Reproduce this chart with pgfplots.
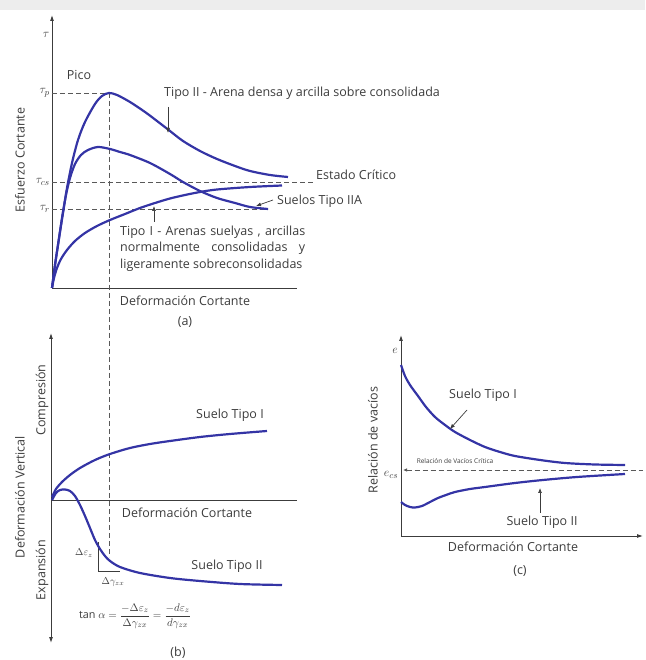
\documentclass[border=0pt]{standalone}
\usepackage{amsmath}
\usepackage{fontspec}
\setmainfont{Open Sans}
\usepackage{pgfplots}
\pgfplotsset{compat=1.18}
\usetikzlibrary{arrows.meta}
\definecolor{curva}{RGB}{52,52,165}
\definecolor{ink}{RGB}{60,60,60}

% every panel uses the same 1px = 1pt grid, so the three axes line up
\pgfplotsset{
  panel/.style={x=1pt, y=1pt, hide axis, clip=false, anchor=south west},
  curvaestilo/.style={curva, line width=2.2pt, smooth, mark=none},
}
\tikzset{
  lab/.style={font=\fontsize{12.5}{14}\selectfont, text=ink, inner sep=0pt},
  ejes/.style={draw=ink, line width=0.9pt},
  guia/.style={draw=ink!85, line width=0.8pt, dash pattern=on 5pt off 3pt},
  flecha/.style={draw=ink, line width=0.7pt, -{Latex[length=5pt,width=4pt]}},
}

\begin{document}
\begin{tikzpicture}[x=1pt, y=1pt]
\useasboundingbox (0,0) rectangle (645,660);
\fill[gray!14] (0,650) rectangle (645,660);

% ---------------- (a) esfuerzo cortante
\begin{axis}[panel, at={(52pt,372pt)}, xmin=52, xmax=297, ymin=372, ymax=645]
  \draw[ejes, -{Latex[length=6pt,width=4pt]}] (52,372) -- (52,645);
  \draw[ejes] (52,372) -- (297,372);
  \draw[guia] (52,567) -- (109,567);
  \draw[guia] (109,567) -- (109,103);
  \draw[guia] (52,478) -- (313,478);
  \draw[guia] (52,451) -- (268,451);

  % Tipo II
  \addplot[curvaestilo] coordinates {
    (52,372) (55,395) (58,415) (63,447) (67,472) (72,497) (78,520) (85,538)
    (95,556) (102,564) (109,567) (117,565) (130,558) (145,548) (157,539)
    (170,529) (183,519) (200,509) (217,501) (235,494) (250,489) (270,485) (288,483)
  };
  % Tipo IIA
  \addplot[curvaestilo] coordinates {
    (52,372) (55,395) (58,415) (62,442) (66,465) (70,482) (75,496) (81,505)
    (88,510) (98,513) (110,511) (120,508) (130,505) (150,497) (170,486)
    (183,478) (200,469) (217,462) (235,457) (250,453) (268,451)
  };
  % Tipo I
  \addplot[curvaestilo] coordinates {
    (52,372) (54,382) (57,392) (61,401) (67,410) (75,419) (85,427) (97,434)
    (110,440) (125,446) (140,452) (155,457) (170,461.5) (185,465) (200,468)
    (217,470.5) (250,473) (282,474.5)
  };

  \node[lab] at (46,625) {$\tau$};
  \node[lab] at (79,585) {Pico};
  \node[lab, anchor=east] at (50,567) {$\tau_p$};
  \node[lab, anchor=east] at (50,478) {$\tau_{cs}$};
  \node[lab, anchor=east] at (50,451) {$\tau_r$};
  \node[lab, rotate=90] at (20,500) {Esfuerzo Cortante};
  \node[lab, anchor=west] at (164,567) {Tipo II - Arena densa y arcilla sobre consolidada};
  \draw[flecha] (168,553) -- (168,527);
  \node[lab, anchor=west] at (316,485) {Estado Crítico};
  \node[lab, anchor=west] at (277,459) {Suelos Tipo IIA};
  \draw[flecha] (273,460) -- (256,454);
  \draw[flecha] (154,438) -- (154,454);
  \node[lab, anchor=west] at (120,428) {\makebox[185pt][s]{Tipo I - Arenas suelyas , arcillas}};
  \node[lab, anchor=west] at (120,412) {\makebox[185pt][s]{normalmente consolidadas y}};
  \node[lab, anchor=west] at (120,395) {ligeramente sobreconsolidadas};
  \node[lab] at (185,359) {Deformación Cortante};
  \node[lab] at (185,338) {(a)};
\end{axis}

% ---------------- (b) deformacion vertical
\begin{axis}[panel, at={(52pt,17pt)}, xmin=52, xmax=297, ymin=17, ymax=327]
  \draw[ejes, {Latex[length=6pt,width=4pt]}-{Latex[length=6pt,width=4pt]}] (51,17) -- (51,327);
  \draw[ejes] (51,160) -- (297,160);
  \draw[draw=ink, line width=0.8pt] (98,118) -- (98,89) -- (120,89);

  % Suelo Tipo I
  \addplot[curvaestilo] coordinates {
    (52,163) (56,171) (62,178) (70,185) (80,192) (95,200) (110,206) (130,212)
    (150,216) (170,219) (200,223) (230,226) (267,229)
  };
  % Suelo Tipo II
  \addplot[curvaestilo] coordinates {
    (52,160) (56,167) (60,170) (65,170.5) (70,169) (75,164) (80,155) (85,144)
    (90,132) (95,120) (100,111) (105,104) (110,99) (120,93) (140,87) (170,82)
    (200,79) (240,76) (282,75)
  };

  \node[lab, rotate=90] at (42,260) {Compresión};
  \node[lab, rotate=90] at (42,90) {Expansión};
  \node[lab, rotate=90] at (20,163) {Deformación Vertical};
  \node[lab] at (230,245) {Suelo Tipo I};
  \node[lab] at (227,94) {Suelo Tipo II};
  \node[lab] at (187,147) {Deformación Cortante};
  \node[lab, font=\fontsize{10}{11}\selectfont] at (84,107) {$\Delta\varepsilon_z$};
  \node[lab, font=\fontsize{10}{11}\selectfont] at (113,78) {$\Delta\gamma_{zx}$};
  \node[lab, font=\fontsize{10.8}{12}\selectfont] at (135,44)
    {tan $\alpha=\dfrac{-\Delta\varepsilon_z}{\Delta\gamma_{zx}}=\dfrac{-d\varepsilon_z}{d\gamma_{zx}}$};
  \node[lab] at (178,7) {(b)};
\end{axis}

% ---------------- (c) relacion de vacios
\begin{axis}[panel, at={(401pt,124pt)}, xmin=401, xmax=643, ymin=124, ymax=325]
  \draw[ejes, -{Latex[length=6pt,width=4pt]}] (401,124) -- (401,325);
  \draw[ejes, -{Latex[length=6pt,width=4pt]}] (401,124) -- (643,124);
  \draw[guia, {Latex[length=4pt,width=3.5pt]}-] (403,190) -- (643,190);

  % Suelo Tipo I
  \addplot[curvaestilo] coordinates {
    (401,295) (405,284) (410,275) (418,264) (426,253) (435,243) (445,235)
    (455,228) (470,220) (485,213) (500,208) (515,204) (540,200) (565,197)
    (595,195.5) (625,195)
  };
  % Suelo Tipo II
  \addplot[curvaestilo] coordinates {
    (401,158) (405,155) (410,153) (415,152.5) (422,154) (430,158) (438,162)
    (446,165) (455,168) (470,171) (485,173) (515,177) (543,180) (577,183) (625,186)
  };

  \node[lab] at (395,309) {$e$};
  \node[lab] at (391,185) {$e_{cs}$};
  \node[lab, font=\fontsize{6.5}{7}\selectfont] at (455,199) {Relación de Vacíos Crítica};
  \node[lab] at (483,265) {Suelo Tipo I};
  \draw[flecha] (467,250) -- (450,231);
  \node[lab] at (542,138) {Suelo Tipo II};
  \draw[flecha] (540,147) -- (540,172);
  \node[lab, rotate=90] at (373,220) {Relación de vacíos};
  \node[lab] at (513,113) {Deformación Cortante};
  \node[lab] at (520,89) {(c)};
\end{axis}
\end{tikzpicture}
\end{document}
